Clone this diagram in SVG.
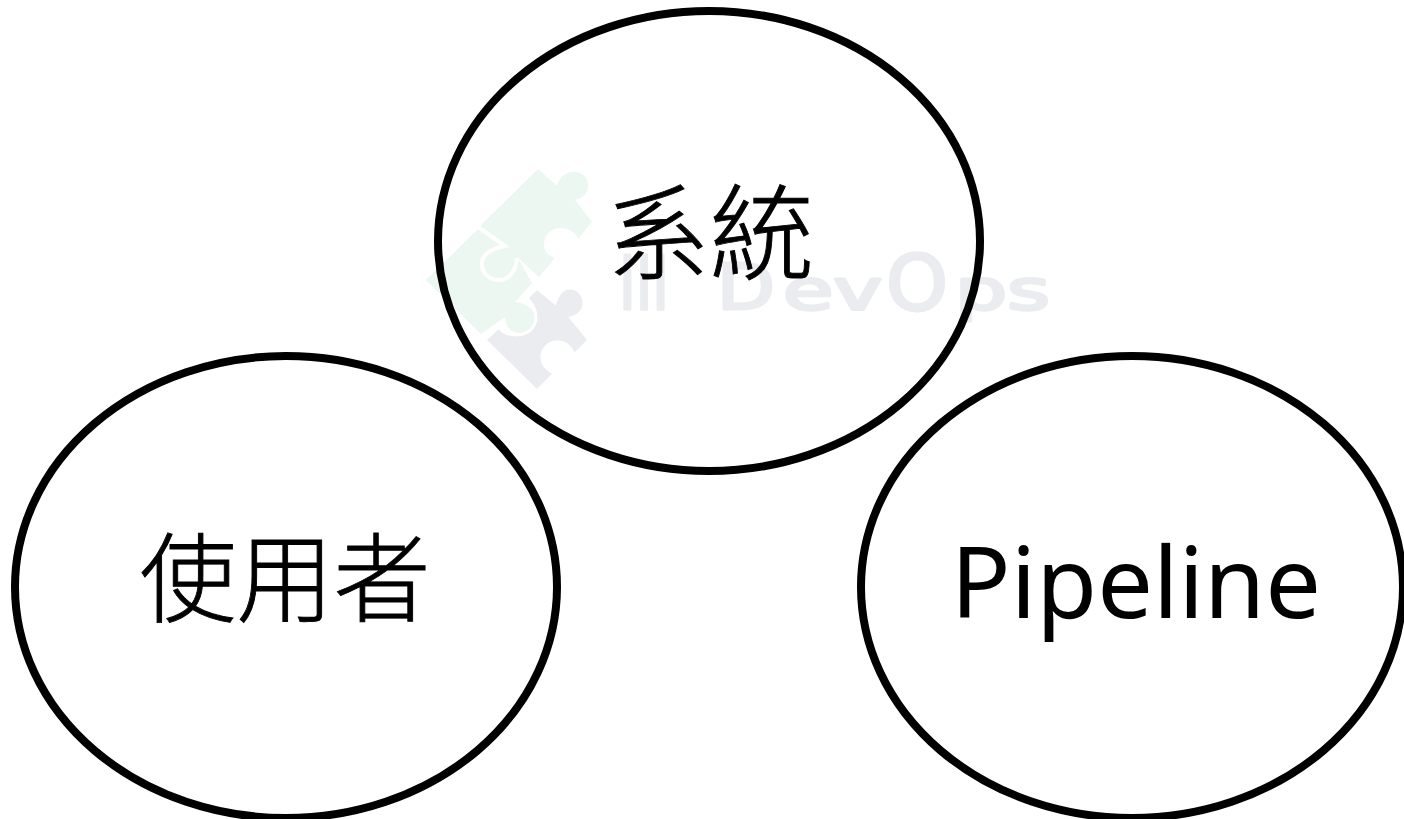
<svg xmlns="http://www.w3.org/2000/svg" width="1404" height="819" viewBox="0 0 1404 819">
<style>
.n{fill:none;stroke:#000;stroke-width:8}
.c{font-family:"Noto Sans CJK TC","Noto Sans CJK SC",sans-serif;font-weight:300;fill:#000;stroke:#000;stroke-width:0.9;text-anchor:middle}
.l{font-family:"Noto Sans","Open Sans",sans-serif;font-size:99px;fill:#000;text-anchor:middle}
.g{fill:#edf7f2}
.y{fill:#ebecf0;stroke:#fff;stroke-width:3}
.gap{fill:none;stroke:#fff;stroke-width:4}
.w{font-family:"DejaVu Sans",sans-serif;fill:#ebecf0;stroke:#ebecf0;stroke-width:3;stroke-linejoin:round}
</style>
<rect width="1404" height="819" fill="#fff"/>
<g id="watermark">
<path class="g" d="M538,169L557,186C560,176 566,172 574,172C584,172 589,180 588,188C587,194 582,198 575,200L592,222L578,239C575,232 569,228 560,228C550,228 544,236 544,244C544,251 549,256 555,258L539,277L518,258L532,283L515,302C528,304 536,310 535,320C534,328 527,333 519,333C511,333 505,326 505,317L481,334L426,280L478,229L484,222Z"/>
<path class="gap" d="M477,226L505,246C490,249 482,255 482,264C482,273 489,280 499,280C510,280 516,270 517,258"/>
<path class="y" d="M537,288L555,303C558,294 563,288 570,288C578,288 584,295 584,303C584,311 578,316 571,318L589,340L574,355C571,347 565,342 557,342C548,342 542,349 542,357C542,365 548,371 555,373L537,391L485,340L499,327C502,332 509,335 517,335C528,335 536,327 536,317C536,309 532,304 527,298Z"/>
<text class="w" x="619" y="309" font-size="72" textLength="50" lengthAdjust="spacingAndGlyphs">ill</text>
<text class="w" x="717" y="309" font-size="62" textLength="58" lengthAdjust="spacingAndGlyphs">D</text>
<text class="w" x="783" y="309" font-size="56" textLength="99" lengthAdjust="spacingAndGlyphs">ev</text>
<text class="w" x="886" y="310" font-size="76" textLength="62" lengthAdjust="spacingAndGlyphs">O</text>
<text class="w" x="955" y="309" font-size="56" textLength="95" lengthAdjust="spacingAndGlyphs">ps</text>
</g>
<g id="connectors"></g>
<g id="system"><ellipse class="n" cx="709" cy="241" rx="271" ry="230"/><text class="c" x="710" y="272" font-size="104">系統</text></g>
<g id="user"><ellipse class="n" cx="286" cy="587" rx="271" ry="231"/><text class="c" x="285" y="614" font-size="97">使用者</text></g>
<g id="pipeline"><ellipse class="n" cx="1132" cy="587" rx="271" ry="231"/><text class="l" x="1136" y="618">Pipeline</text></g>
</svg>
